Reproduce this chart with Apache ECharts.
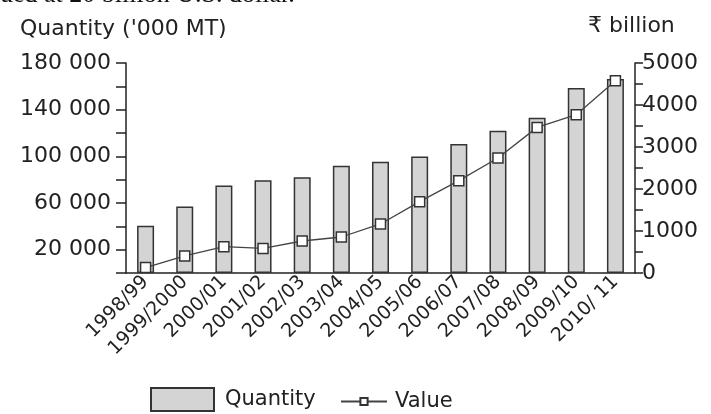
<!DOCTYPE html>
<html>
<head>
<meta charset="utf-8">
<script src="https://cdn.jsdelivr.net/npm/echarts@6/dist/echarts.min.js"></script>
<style>
html,body{margin:0;padding:0;background:#fff;}
#chart{width:711px;height:414px;}
</style>
</head>
<body>
<div id="chart"></div>
<script>
var categories = ['1998/99','1999/2000','2000/01','2001/02','2002/03','2003/04','2004/05','2005/06','2006/07','2007/08','2008/09','2009/10','2010/ 11'];
var quantity = [40500, 57100, 75100, 79400, 82000, 92000, 95400, 99900, 110600, 122000, 133000, 158600, 166300];
var value = [130, 405, 626, 586, 762, 857, 1167, 1698, 2198, 2738, 3467, 3769, 4579];
var leftLabels = [20000, 60000, 100000, 140000, 180000];
var rightLabels = [0, 1000, 2000, 3000, 4000, 5000];

var FONT = '"DejaVu Sans", "Liberation Sans", Arial, sans-serif';
var chart = echarts.init(document.getElementById('chart'));
function fmtSpace(v){ return String(v).replace(/\B(?=(\d{3})+(?!\d))/g, ' '); }

chart.setOption({
  animation: false,
  backgroundColor: '#fff',
  grid: { left: 126, right: 76, top: 63, bottom: 141, containLabel: false },
  legend: [
    { data: [{ name: 'Quantity', icon: 'rect' }], left: 150, top: 387, padding: 0, itemWidth: 63, itemHeight: 23, itemGap: 10,
      textStyle: { fontFamily: FONT, fontSize: 21, color: '#222', padding: [0, 0, 0, 6] } },
    { data: ['Value'], left: 340, top: 391, padding: 0, itemWidth: 46, itemHeight: 9,
      textStyle: { fontFamily: FONT, fontSize: 21, color: '#222', padding: [0, 0, 0, 3] } }
  ],
  xAxis: {
    type: 'category', data: categories, boundaryGap: true,
    axisLine: { lineStyle: { color: '#222', width: 1.5 } },
    axisTick: { show: false },
    axisLabel: { rotate: 45, interval: 0, margin: 6, fontFamily: FONT, fontSize: 19, color: '#222' }
  },
  yAxis: [
    { type: 'value', min: 0, max: 180000, interval: 20000, position: 'left',
      splitLine: { show: false },
      axisLine: { show: true, lineStyle: { color: '#222', width: 1.5 } },
      axisTick: { show: true, length: 10, lineStyle: { color: '#222', width: 1.5 } },
      axisLabel: { margin: 15, fontFamily: FONT, fontSize: 22, color: '#222',
        formatter: function(v){ return leftLabels.indexOf(v) >= 0 ? fmtSpace(v) : ''; } }
    },
    { type: 'value', min: 0, max: 5000, interval: 500, position: 'right',
      splitLine: { show: false },
      axisLine: { show: true, lineStyle: { color: '#222', width: 1.5 } },
      axisTick: { show: true, length: 8, lineStyle: { color: '#222', width: 1.5 } },
      axisLabel: { margin: 7, fontFamily: FONT, fontSize: 22, color: '#222',
        formatter: function(v){ return rightLabels.indexOf(v) >= 0 ? String(v) : ''; } }
    }
  ],
  graphic: [
    { type: 'text', left: 0, top: -18, style: { text: 'ued at 20 billion U.S. dollar.', font: '26px "Liberation Serif", "DejaVu Serif", serif', fill: '#111' } },
    { type: 'text', left: 20, top: 18, style: { text: "Quantity ('000 MT)", font: '22px ' + FONT, fill: '#222' } },
    { type: 'text', left: 588, top: 15, style: { text: '₹ billion', font: '22px ' + FONT, fill: '#222' } }
  ],
  series: [
    { name: 'Quantity', type: 'bar', yAxisIndex: 0, data: quantity, barWidth: 17,
      itemStyle: { color: '#d4d4d4', borderColor: '#333', borderWidth: 1.5 } },
    { name: 'Value', type: 'line', yAxisIndex: 1, data: value,
      symbol: 'rect', symbolSize: 10, showSymbol: true,
      lineStyle: { color: '#444', width: 1.3 },
      itemStyle: { color: '#fff', borderColor: '#333', borderWidth: 1.5 } }
  ]
});
</script>
</body>
</html>
